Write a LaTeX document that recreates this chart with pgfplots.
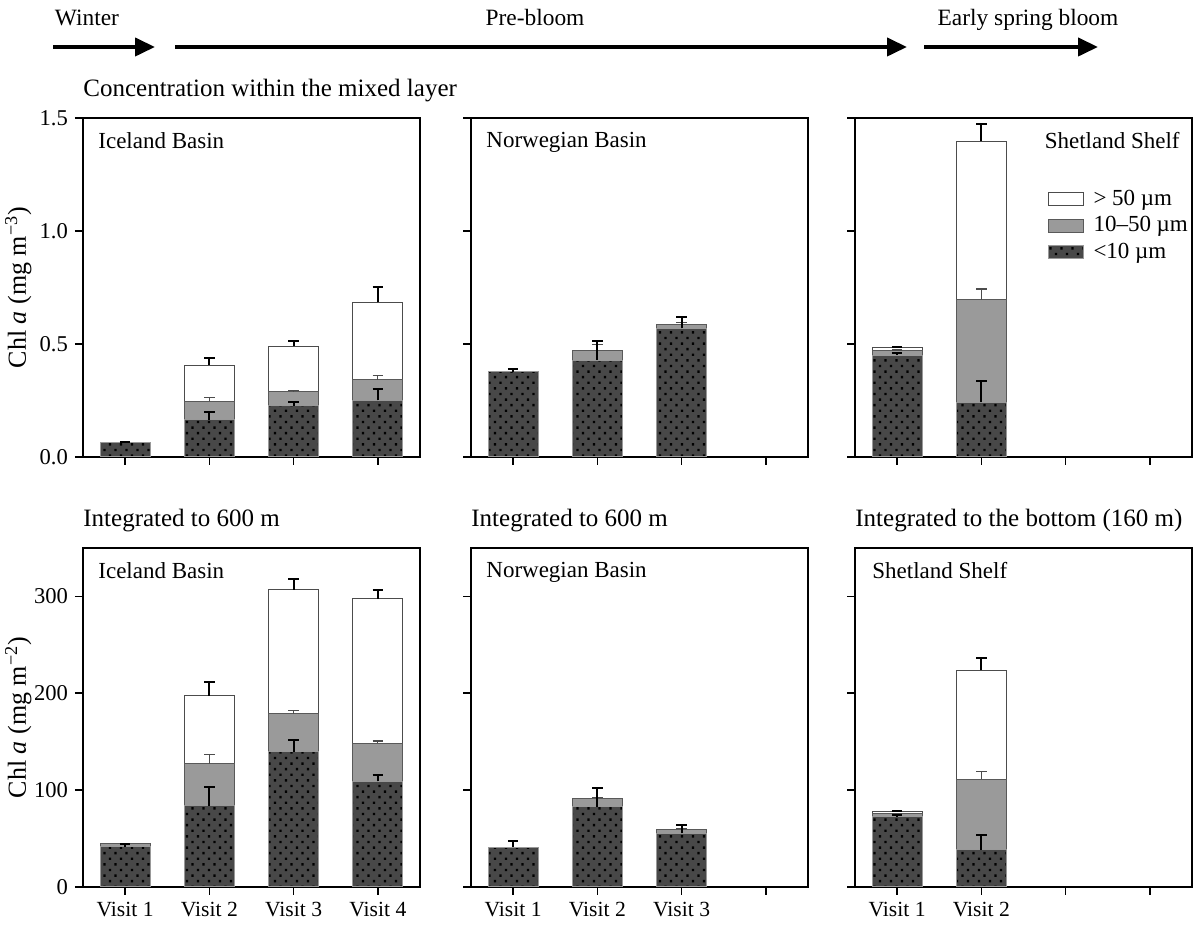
\documentclass[border=0pt]{standalone}
\usepackage{fontspec}
\setmainfont{Liberation Serif}
\usepackage{pgfplots}
\pgfplotsset{compat=1.18}
\usetikzlibrary{patterns, arrows.meta}

\pgfdeclarepatternformonly{mydots}{\pgfqpoint{-1pt}{-1pt}}{\pgfqpoint{4.5pt}{4.5pt}}{\pgfqpoint{5.5pt}{5.6pt}}{%
  \pgfpathrectangle{\pgfqpoint{-0.6pt}{-0.6pt}}{\pgfqpoint{1.2pt}{1.2pt}}%
  \pgfpathrectangle{\pgfqpoint{2.15pt}{2.2pt}}{\pgfqpoint{1.2pt}{1.2pt}}%
  \pgfusepath{fill}}

\definecolor{darkbar}{HTML}{484848}
\definecolor{graybar}{HTML}{9A9A9A}

\tikzset{
  ptitle/.style={font=\fontsize{11.5}{13}\selectfont, inner sep=0pt},
  heading/.style={font=\fontsize{12.5}{14}\selectfont, inner sep=0pt, anchor=base west},
}

\pgfplotsset{
  panel/.style={
    scale only axis, width=168.5pt, height=169.5pt,
    xmin=0.5, xmax=4.5, xtick={1,2,3,4},
    tick align=outside, tick pos=left,
    major tick length=4pt,
    axis line style={line width=0.8pt},
    every tick/.style={black, line width=0.8pt},
    ybar, bar width=25pt,
    ticklabel style={font=\fontsize{11.3}{13}\selectfont},
    xticklabel style={font=\fontsize{10.8}{13}\selectfont},
    /pgf/number format/assume math mode=true,
    clip=false,
  },
  toprow/.style={ymin=0, ymax=1.5, ytick={0,0.5,1,1.5}, xticklabels={},
    yticklabel style={/pgf/number format/.cd, fixed, fixed zerofill, precision=1}},
  botrow/.style={ymin=0, ymax=350, ytick={0,100,200,300}},
  ylab/.style={ylabel style={font=\fontsize{13}{15}\selectfont, inner sep=0pt,
    at={(axis description cs:-0.152,0.5)}, anchor=south}},
  wbar/.style={fill=white, draw=gray!60!black, line width=0.5pt, bar shift=0pt,
    error bars/.cd, y dir=plus, y explicit,
    error bar style={black, line width=1pt},
    error mark options={rotate=90, black, line width=1pt, mark size=2.6pt}},
  gbar/.style={fill=graybar, draw=gray!70!black, line width=0.5pt, bar shift=0pt,
    error bars/.cd, y dir=plus, y explicit,
    error bar style={black!70, line width=0.6pt},
    error mark options={rotate=90, black!70, line width=0.6pt, mark size=2.6pt}},
  dbar/.style={fill=darkbar, draw=gray!80, line width=0.5pt, bar shift=0pt,
    postaction={pattern=mydots, pattern color=black},
    error bars/.cd, y dir=plus, y explicit,
    error bar style={black, line width=1pt},
    error mark options={rotate=90, black, line width=1pt, mark size=2.6pt}},
}

\begin{document}
\begin{tikzpicture}
\path[use as bounding box] (0,0) rectangle (597pt,463pt);

% top arrows
\draw[line width=2pt, -{Triangle[length=10pt, width=9pt]}] (26.5pt,439.5pt) -- (77.5pt,439.5pt);
\draw[line width=2pt, -{Triangle[length=10pt, width=9pt]}] (87.5pt,439.5pt) -- (453.5pt,439.5pt);
\draw[line width=2pt, -{Triangle[length=10pt, width=9pt]}] (462pt,439.5pt) -- (549pt,439.5pt);
\node[font=\fontsize{11.7}{13}\selectfont, anchor=base, inner sep=0pt] at (43.5pt,450pt) {Winter};
\node[font=\fontsize{11.7}{13}\selectfont, anchor=base, inner sep=0pt] at (267.5pt,450pt) {Pre-bloom};
\node[font=\fontsize{11.7}{13}\selectfont, anchor=base, inner sep=0pt] at (514pt,450pt) {Early spring bloom};

% ---------- TOP LEFT ----------
\begin{axis}[panel, toprow, ylab, at={(41.5pt,234.5pt)}, anchor=south west,
  ylabel={Chl \textit{a} (mg m\textsuperscript{−3})}]
\addplot[wbar] coordinates {(2,0.407) +- (0,0.033) (3,0.491) +- (0,0.022) (4,0.684) +- (0,0.070)};
\addplot[gbar] coordinates {(2,0.246) +- (0,0.019) (3,0.288) +- (0,0.005) (4,0.341) +- (0,0.019)};
\addplot[dbar] coordinates {(1,0.064) +- (0,0.002) (2,0.164) +- (0,0.036) (3,0.226) +- (0,0.019) (4,0.251) +- (0,0.049)};
\node[ptitle, anchor=north west] at (axis description cs:0,1) [xshift=7.5pt, yshift=-7pt] {Iceland Basin};
\node[heading] at (axis description cs:0,1) [yshift=10.5pt] {Concentration within the mixed layer};
\end{axis}

% ---------- TOP MIDDLE ----------
\begin{axis}[panel, toprow, at={(235.5pt,234.5pt)}, anchor=south west, yticklabels={}]
\addplot[gbar] coordinates {(2,0.469) +- (0,0.030) (3,0.587) +- (0,0.007)};
\addplot[dbar] coordinates {(1,0.377) +- (0,0.012) (2,0.429) +- (0,0.083) (3,0.569) +- (0,0.049)};
\node[ptitle, anchor=north west] at (axis description cs:0,1) [xshift=7.5pt, yshift=-7pt] {Norwegian Basin};
\end{axis}

% ---------- TOP RIGHT ----------
\begin{axis}[panel, toprow, at={(427.5pt,234.5pt)}, anchor=south west, yticklabels={},
  legend style={at={(axis description cs:0.57,0.8)}, anchor=north west, draw=none, fill=none,
    font=\fontsize{11.5}{13}\selectfont, row sep=0pt, inner sep=0pt, cells={anchor=west}},
  legend image code/.code={\draw[#1] (0pt,-3.25pt) rectangle (17.5pt,3.25pt); \path (20.5pt,0pt);}]
\addplot[wbar] coordinates {(1,0.485) +- (0,0.003) (2,1.398) +- (0,0.075)};
\addlegendentry{> 50 µm}
\addplot[gbar] coordinates {(1,0.473) +- (0,0.0) (2,0.695) +- (0,0.048)};
\addlegendentry{10–50 µm}
\addplot[dbar] coordinates {(1,0.451) +- (0,0.009) (2,0.242) +- (0,0.096)};
\addlegendentry{<10 µm}
\node[ptitle, anchor=north east] at (axis description cs:1,1) [xshift=-6pt, yshift=-7pt] {Shetland Shelf};
\end{axis}

% ---------- BOTTOM LEFT ----------
\begin{axis}[panel, botrow, ylab, at={(41.5pt,19.5pt)}, anchor=south west,
  xticklabels={Visit 1,Visit 2,Visit 3,Visit 4},
  ylabel={Chl \textit{a} (mg m\textsuperscript{−2})}]
\addplot[wbar] coordinates {(2,197.5) +- (0,14.5) (3,307) +- (0,11) (4,297.5) +- (0,9)};
\addplot[gbar] coordinates {(1,45.2) +- (0,0) (2,127) +- (0,9.5) (3,179) +- (0,3.3) (4,148.6) +- (0,2.1)};
\addplot[dbar] coordinates {(1,41.7) +- (0,2.3) (2,84) +- (0,19) (3,139.6) +- (0,11.7) (4,109) +- (0,6.5)};
\node[ptitle, anchor=north west] at (axis description cs:0,1) [xshift=7.5pt, yshift=-7pt] {Iceland Basin};
\node[heading] at (axis description cs:0,1) [yshift=10.5pt] {Integrated to 600 m};
\end{axis}

% ---------- BOTTOM MIDDLE ----------
\begin{axis}[panel, botrow, at={(235.5pt,19.5pt)}, anchor=south west, yticklabels={},
  xticklabels={Visit 1,Visit 2,Visit 3,{}}]
\addplot[gbar] coordinates {(2,91) +- (0,1.7) (3,59) +- (0,1)};
\addplot[dbar] coordinates {(1,41) +- (0,7) (2,83) +- (0,19) (3,55.5) +- (0,8.5)};
\node[ptitle, anchor=north west] at (axis description cs:0,1) [xshift=7.5pt, yshift=-7pt] {Norwegian Basin};
\node[heading] at (axis description cs:0,1) [yshift=10.5pt] {Integrated to 600 m};
\end{axis}

% ---------- BOTTOM RIGHT ----------
\begin{axis}[panel, botrow, at={(427.5pt,19.5pt)}, anchor=south west, yticklabels={},
  xticklabels={Visit 1,Visit 2,{},{}}]
\addplot[wbar] coordinates {(1,77.6) +- (0,0.5) (2,223.7) +- (0,12.8)};
\addplot[gbar] coordinates {(1,75.5) +- (0,0) (2,111.4) +- (0,7.8)};
\addplot[dbar] coordinates {(1,72.7) +- (0,2) (2,38.3) +- (0,15.5)};
\node[ptitle, anchor=north west] at (axis description cs:0,1) [xshift=8.5pt, yshift=-7pt] {Shetland Shelf};
\node[heading] at (axis description cs:0,1) [yshift=10.5pt] {Integrated to the bottom (160 m)};
\end{axis}
\end{tikzpicture}
\end{document}
